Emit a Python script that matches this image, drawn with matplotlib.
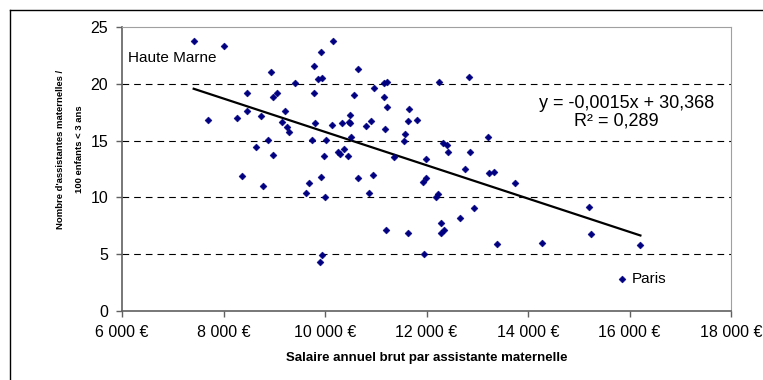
import numpy as np
import matplotlib.pyplot as plt
from matplotlib.ticker import FuncFormatter, MultipleLocator
from matplotlib.lines import Line2D
from matplotlib import font_manager

plt.rcParams['font.family'] = ['Liberation Sans', 'DejaVu Sans']

# salaire annuel brut (EUR) et nb d'assistantes maternelles pour 100 enfants < 3 ans
# premier point = Haute Marne, dernier point = Paris
salaire = [7409, 8000, 8452, 7690, 8255, 8452, 10153, 9922, 9785, 8938,
           10645, 9404, 9851, 9942, 9785, 9056, 8977, 10567, 10961, 9213,
           8734, 9154, 9247, 9292, 9798, 10133, 10330, 10474, 10494, 10488,
           10803, 10902, 10507, 8866, 9745, 10015, 8642, 8965, 9975, 10251,
           10369, 10285, 10448, 11164, 11216, 12235, 12826, 11157, 11216, 11644,
           11624, 11801, 11177, 11565, 11551, 12314, 12393, 12412, 12846, 13213,
           11354, 11998, 8366, 8780, 10639, 9916, 9680, 9627, 10001, 9936,
           9891, 10947, 10862, 12761, 13232, 13330, 13744, 11920, 11998, 12182,
           12227, 12937, 12661, 12286, 12274, 12345, 11197, 11624, 11940, 13378,
           14276, 15202, 15241, 16214, 15846]
taux = [23.78, 23.36, 19.24, 16.86, 17.03, 17.65, 23.78, 22.83, 21.62, 21.07,
        21.33, 20.10, 20.42, 20.54, 19.24, 19.24, 18.86, 19.07, 19.66, 17.65,
        17.21, 16.68, 16.24, 15.80, 16.59, 16.39, 16.59, 16.68, 16.54, 17.30,
        16.33, 16.71, 15.36, 15.09, 15.04, 15.09, 14.42, 13.72, 13.63, 14.03,
        14.24, 13.83, 13.63, 20.10, 20.18, 20.18, 20.63, 18.86, 17.98, 17.80,
        16.77, 16.86, 16.04, 15.62, 15.00, 14.83, 14.62, 14.03, 14.03, 15.36,
        13.54, 13.36, 11.86, 10.98, 11.69, 11.77, 11.24, 10.36, 10.06, 4.92,
        4.27, 11.98, 10.36, 12.48, 12.18, 12.27, 11.24, 11.33, 11.69, 10.01,
        10.27, 9.04, 8.16, 7.74, 6.86, 7.10, 7.12, 6.86, 5.00, 5.89,
        5.98, 9.13, 6.77, 5.77, 2.82]

eq_line = "y = -0,0015x + 30,368"
r2_line = "R² = 0,289"

W, H = 763, 380
fig = plt.figure(figsize=(W / 100, H / 100), dpi=100)
ax = fig.add_axes([122.2 / W, 1 - 310.7 / H, (731 - 122.2) / W, (310.7 - 27.4) / H])

ax.set_xlim(6000, 18000)
ax.set_ylim(0, 25)
ax.xaxis.set_major_locator(MultipleLocator(2000))
ax.yaxis.set_major_locator(MultipleLocator(5))
ax.xaxis.set_major_formatter(FuncFormatter(lambda v, p: f"{int(v):,}".replace(',', ' ') + ' €'))

for y in [5, 10, 15, 20]:
    ax.axhline(y, color='black', lw=0.8, dashes=(6, 4.5), zorder=1)

for s in ['left', 'bottom']:
    ax.spines[s].set_color('#606060')
    ax.spines[s].set_linewidth(1.2)
for s in ['top', 'right']:
    ax.spines[s].set_color('#a0a0a0')
    ax.spines[s].set_linewidth(0.8)
ax.tick_params(direction='out', length=4, width=1, color='#606060', labelsize=11.5, pad=6)

x = np.array(salaire)
y = np.array(taux)
ax.plot(x, y, 'D', ms=3.5, color='#000080', mec='#000080', mew=0.4, zorder=3)

# droite de tendance
a, b = np.polyfit(x, y, 1)
xs = np.array([x.min(), x.max()])
ax.plot(xs, a * xs + b, color='black', lw=1.6, zorder=2)

fig.text(626.5 / W, 1 - 103 / H, eq_line, ha='center', va='center', fontsize=13)
fig.text(574 / W, 1 - 121 / H, r2_line, ha='left', va='center', fontsize=13)

ax.annotate('Haute Marne', xy=(salaire[0], taux[0]), xytext=(-47.5, -12),
            textcoords='offset points', ha='left', va='center', fontsize=11)
ax.annotate('Paris', xy=(salaire[-1], taux[-1]), xytext=(7.4, 0),
            textcoords='offset points', ha='left', va='center', fontsize=11)

fig.text(426.5 / W, 1 - 357.7 / H, 'Salaire annuel brut par assistante maternelle',
         ha='center', va='center', fontsize=9.5, fontweight='bold')

names = {f.name for f in font_manager.fontManager.ttflist}
if 'Liberation Sans Narrow' in names:
    yfam, ysize = ['Liberation Sans Narrow', 'Liberation Sans'], 8
else:
    yfam, ysize = ['Liberation Sans', 'DejaVu Sans'], 6.8
fig.text(61 / W, 1 - 149.5 / H, "Nombre d'assistantes maternelles /", rotation=90,
         ha='center', va='center', fontsize=ysize, fontweight='bold', family=yfam)
fig.text(80 / W, 1 - 149.5 / H, "100 enfants < 3 ans", rotation=90,
         ha='center', va='center', fontsize=ysize, fontweight='bold', family=yfam)

# cadre du graphique
fig.add_artist(Line2D([9.5 / W, 9.5 / W], [0, 1 - 9.5 / H], color='black', lw=1,
                      transform=fig.transFigure))
fig.add_artist(Line2D([9.5 / W, 1], [1 - 9.5 / H, 1 - 9.5 / H], color='black', lw=1,
                      transform=fig.transFigure))

fig.savefig('out.png', dpi=100)
